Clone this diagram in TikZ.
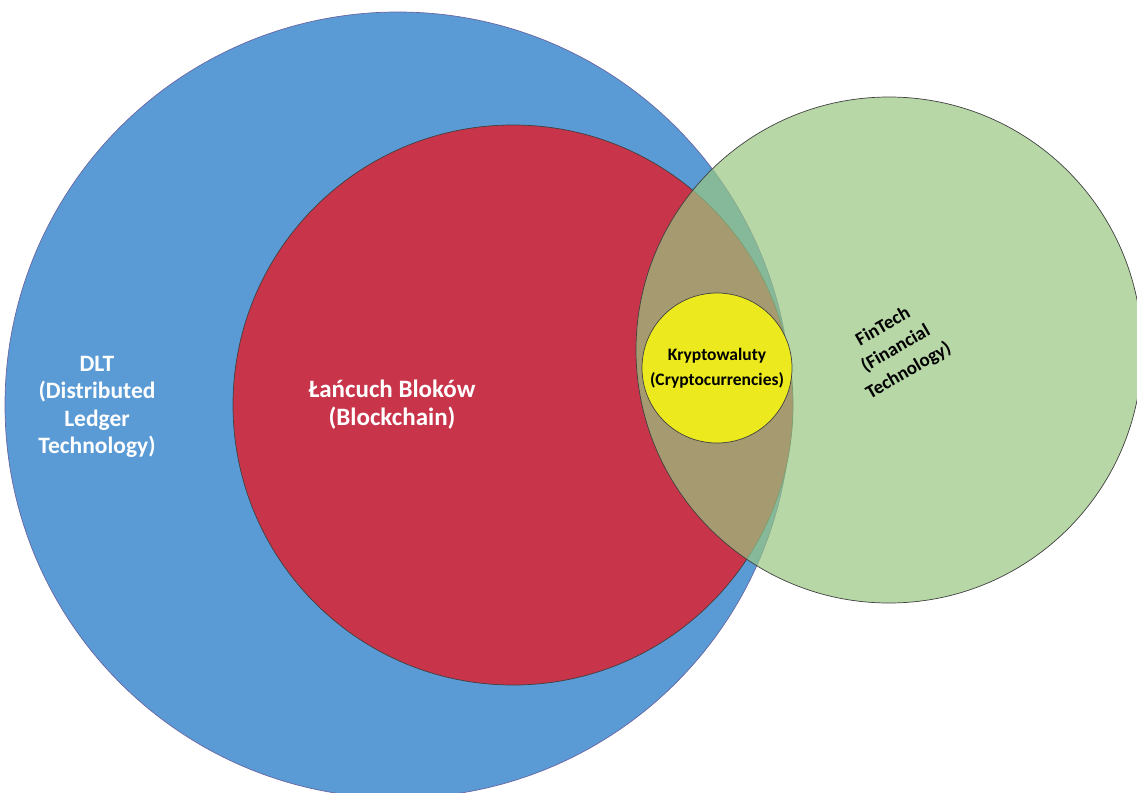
\documentclass[tikz,border=0pt]{standalone}
\usepackage{fontspec}
\setmainfont{Carlito}
\begin{document}
\begin{tikzpicture}[x=1pt,y=-1pt,
  set/.style={circle, draw=black!75, line width=0.7pt, inner sep=0pt},
  lbl/.style={font=\bfseries, align=center, inner sep=0pt}]
\definecolor{dltblue}{RGB}{91,155,213}
\definecolor{bcred}{RGB}{200,53,74}
\definecolor{ftgreen}{RGB}{152,198,130}
\definecolor{cryyellow}{RGB}{236,234,30}
\useasboundingbox (0,0) rectangle (1137,792);
\begin{scope}
\clip (0,0) rectangle (1137,792);
% distributed ledgers, blockchains inside them
\node[set, fill=dltblue, draw=black!60!blue!60, minimum size=786pt] (dlt) at (398,405) {};
\node[set, fill=bcred, minimum size=560pt] (bc) at (513,405) {};
% fintech overlaps both, half transparent
\node[set, fill=ftgreen, fill opacity=0.7, minimum size=506pt] (ft) at (889,350) {};
% cryptocurrencies in the overlap
\node[set, fill=cryyellow, minimum size=150pt] (cry) at (717,368) {};
\end{scope}
\node[lbl, text=white, font=\bfseries\fontsize{23.5}{27.3}\selectfont] (tdlt) at (97,407)
  {DLT\\(Distributed\\Ledger\\Technology)};
\node[lbl, text=white, font=\bfseries\fontsize{25}{28}\selectfont] (tbc) at (392,405)
  {Łańcuch Bloków\\(Blockchain)};
\node[lbl, font=\bfseries\fontsize{17.5}{25}\selectfont] (tcry) at (717,368)
  {Kryptowaluty\\(Cryptocurrencies)};
\node[lbl, rotate=30, font=\bfseries\fontsize{19}{25.5}\selectfont] (tft) at (896,349)
  {FinTech\\(Financial\\Technology)};
\end{tikzpicture}
\end{document}
